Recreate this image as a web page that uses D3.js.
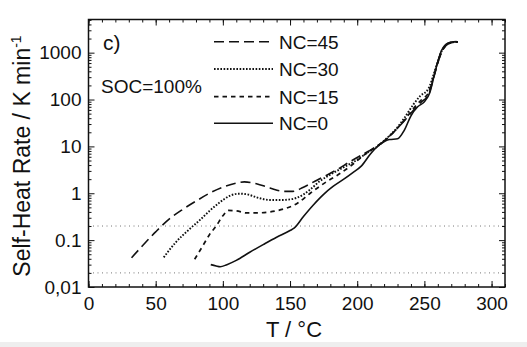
<!DOCTYPE html>
<html>
    <head>
        <meta charset="utf-8">
        <title>Self-heat rate vs temperature</title>
        <script src="https://d3js.org/d3.v7.min.js"></script>
        <style>
            body { margin:0; background:#fff; }
            svg { display:block; font-family: Arial, "Liberation Sans", sans-serif; }
        </style>
    </head>
    <body>
        <svg id="chart" width="527" height="347"></svg>
    </body>
    <script>

        // Self-heat rate (K/min) against temperature (°C), one curve per NC
        const t45 = [32, 40, 50, 60, 70, 80, 90, 100, 110, 116, 125, 135, 145, 152, 160, 170, 177, 185, 195, 205, 212, 220, 227, 235, 242, 248, 253, 257, 260, 263, 266, 270, 275];
        const r45 = [0.042, 0.075, 0.15, 0.28, 0.45, 0.68, 1.0, 1.35, 1.65, 1.75, 1.6, 1.3, 1.1, 1.1, 1.35, 1.9, 2.4, 3.2, 4.8, 7, 9, 13, 20, 35, 60, 90, 125, 300, 600, 1050, 1400, 1620, 1700];

        const t30 = [56, 65, 75, 83, 90, 98, 105, 112, 118, 125, 135, 145, 155, 165, 172, 180, 190, 200, 208, 215, 222, 228, 235, 242, 247, 253, 257, 260, 263, 266, 270, 275];
        const r30 = [0.043, 0.09, 0.17, 0.27, 0.42, 0.65, 0.88, 0.98, 0.95, 0.82, 0.72, 0.72, 0.8, 1.2, 1.8, 2.5, 3.6, 5.2, 7.5, 10, 15, 22, 40, 80, 120, 170, 350, 650, 1100, 1450, 1650, 1700];

        const t15 = [79, 85, 90, 95, 100, 104, 110, 118, 125, 135, 145, 155, 165, 172, 177, 185, 195, 205, 212, 220, 227, 235, 242, 248, 253, 257, 260, 263, 266, 270, 275];
        const r15 = [0.039, 0.075, 0.13, 0.2, 0.33, 0.43, 0.42, 0.38, 0.38, 0.4, 0.46, 0.6, 1.0, 1.4, 1.75, 2.4, 3.8, 6.5, 9, 13, 20, 36, 65, 100, 140, 320, 620, 1080, 1420, 1640, 1700];

        const t0 = [91, 95, 98, 103, 110, 120, 130, 140, 150, 153, 160, 167, 175, 182, 190, 197, 203, 210, 217, 224, 230, 235, 240, 245, 250, 254, 257, 260, 263, 266, 270, 274];
        const r0 = [0.030, 0.028, 0.027, 0.030, 0.037, 0.055, 0.08, 0.115, 0.16, 0.18, 0.32, 0.55, 0.95, 1.4, 2.0, 2.8, 3.8, 7, 11, 14, 14.5, 22, 45, 70, 90, 140, 300, 650, 1150, 1500, 1680, 1720];

        const seriesNames = ['NC=45', 'NC=30', 'NC=15', 'NC=0'];
        const refLevels = [0.2, 0.02];
        const xTicks = [0, 50, 100, 150, 200, 250, 300];
        const yTicks = [0.01, 0.1, 1, 10, 100, 1000];

        const svg = d3.select('#chart');

        // faint strip along the bottom edge
        svg.append('rect').attr('x', 0).attr('y', 342).attr('width', 527).attr('height', 5).attr('fill', '#eeeeee');

        const mLeft = 88.5, mRight = 505, mTop = 19.5, mBottom = 287;
        const x = d3.scaleLinear().domain([0, 310]).range([mLeft, mRight]);
        const y = d3.scaleLog().domain([0.01, 5100]).range([mBottom, mTop]);

        // dotted reference levels
        svg.selectAll('.ref').data(refLevels).join('line')
            .attr('x1', mLeft).attr('x2', mRight)
            .attr('y1', d => y(d)).attr('y2', d => y(d))
            .attr('stroke', '#777').attr('stroke-width', 1)
            .attr('stroke-dasharray', '1,3.5');

        const styles = [
            {dash: '10,5', width: 1.6},
            {dash: '1.6,1.6', width: 1.9},
            {dash: '4.5,4', width: 1.7},
            {dash: null, width: 1.6}
        ];
        const data = [[t45, r45], [t30, r30], [t15, r15], [t0, r0]];

        const line = d3.line()
            .x(d => x(d[0]))
            .y(d => y(d[1]))
            .curve(d3.curveMonotoneX);

        data.forEach((s, i) => {
            const pts = s[0].map((t, j) => [t, s[1][j]]);
            svg.append('path')
                .attr('d', line(pts))
                .attr('fill', 'none')
                .attr('stroke', '#111')
                .attr('stroke-width', styles[i].width)
                .attr('stroke-dasharray', styles[i].dash);
        });

        // axes with inward ticks on all four sides
        const xMinor = d3.range(0, 311, 10);
        const yMinor = [];
        for (let e = -2; e <= 3; e++)
            for (let m = 2; m <= 9; m++)
                if (m * Math.pow(10, e) < 5100) yMinor.push(m * Math.pow(10, e));

        const fmtY = d => d === 0.01 ? '0,01' : d3.format('~g')(d);

        function axis(gen, tr) {
            const g = svg.append('g').attr('transform', tr).call(gen);
            g.select('.domain').remove();
            g.selectAll('line').attr('stroke', '#111');
            return g;
        }

        axis(d3.axisBottom(x).tickValues(xMinor).tickSize(-3).tickFormat(''), `translate(0,${mBottom})`);
        axis(d3.axisTop(x).tickValues(xMinor).tickSize(-3).tickFormat(''), `translate(0,${mTop})`);
        axis(d3.axisBottom(x).tickValues(xTicks).tickSize(-6).tickPadding(10), `translate(0,${mBottom})`)
            .selectAll('text').attr('font-size', 19).attr('fill', '#111').attr('font-family', 'Arial, "Liberation Sans", sans-serif');
        axis(d3.axisTop(x).tickValues(xTicks).tickSize(-6).tickFormat(''), `translate(0,${mTop})`);

        axis(d3.axisLeft(y).tickValues(yMinor).tickSize(-3).tickFormat(''), `translate(${mLeft},0)`);
        axis(d3.axisRight(y).tickValues(yMinor).tickSize(-3).tickFormat(''), `translate(${mRight},0)`);
        axis(d3.axisLeft(y).tickValues(yTicks).tickSize(-6).tickPadding(7).tickFormat(fmtY), `translate(${mLeft},0)`)
            .selectAll('text').attr('font-size', 19).attr('fill', '#111').attr('font-family', 'Arial, "Liberation Sans", sans-serif');
        axis(d3.axisRight(y).tickValues(yTicks).tickSize(-6).tickFormat(''), `translate(${mRight},0)`);

        // frame
        svg.append('rect')
            .attr('x', mLeft).attr('y', mTop)
            .attr('width', mRight - mLeft).attr('height', mBottom - mTop)
            .attr('fill', 'none').attr('stroke', '#111').attr('stroke-width', 1.5);

        // axis titles
        const yl = svg.append('text')
            .attr('transform', 'translate(30,156) rotate(-90)')
            .attr('text-anchor', 'middle')
            .attr('font-size', 23).attr('fill', '#111');
        yl.append('tspan').text('Self-Heat Rate / K min');
        yl.append('tspan').attr('font-size', 14).attr('dy', -9).text('-1');

        svg.append('text')
            .attr('x', 294).attr('y', 337)
            .attr('text-anchor', 'middle')
            .attr('font-size', 22).attr('fill', '#111')
            .text('T / °C');

        // annotations
        svg.append('text').attr('x', 103).attr('y', 50).attr('font-size', 21).attr('fill', '#111').text('c)');
        svg.append('text').attr('x', 101).attr('y', 93).attr('font-size', 19).attr('fill', '#111').text('SOC=100%');

        // legend
        const legY = [41.7, 69, 96.7, 123.3];
        seriesNames.forEach((name, i) => {
            svg.append('line')
                .attr('x1', 214).attr('x2', 273)
                .attr('y1', legY[i]).attr('y2', legY[i])
                .attr('stroke', '#111')
                .attr('stroke-width', styles[i].width)
                .attr('stroke-dasharray', styles[i].dash);
            svg.append('text')
                .attr('x', 279).attr('y', legY[i] + 7)
                .attr('font-size', 19).attr('fill', '#111')
                .text(name);
        });

    </script>
</html>
